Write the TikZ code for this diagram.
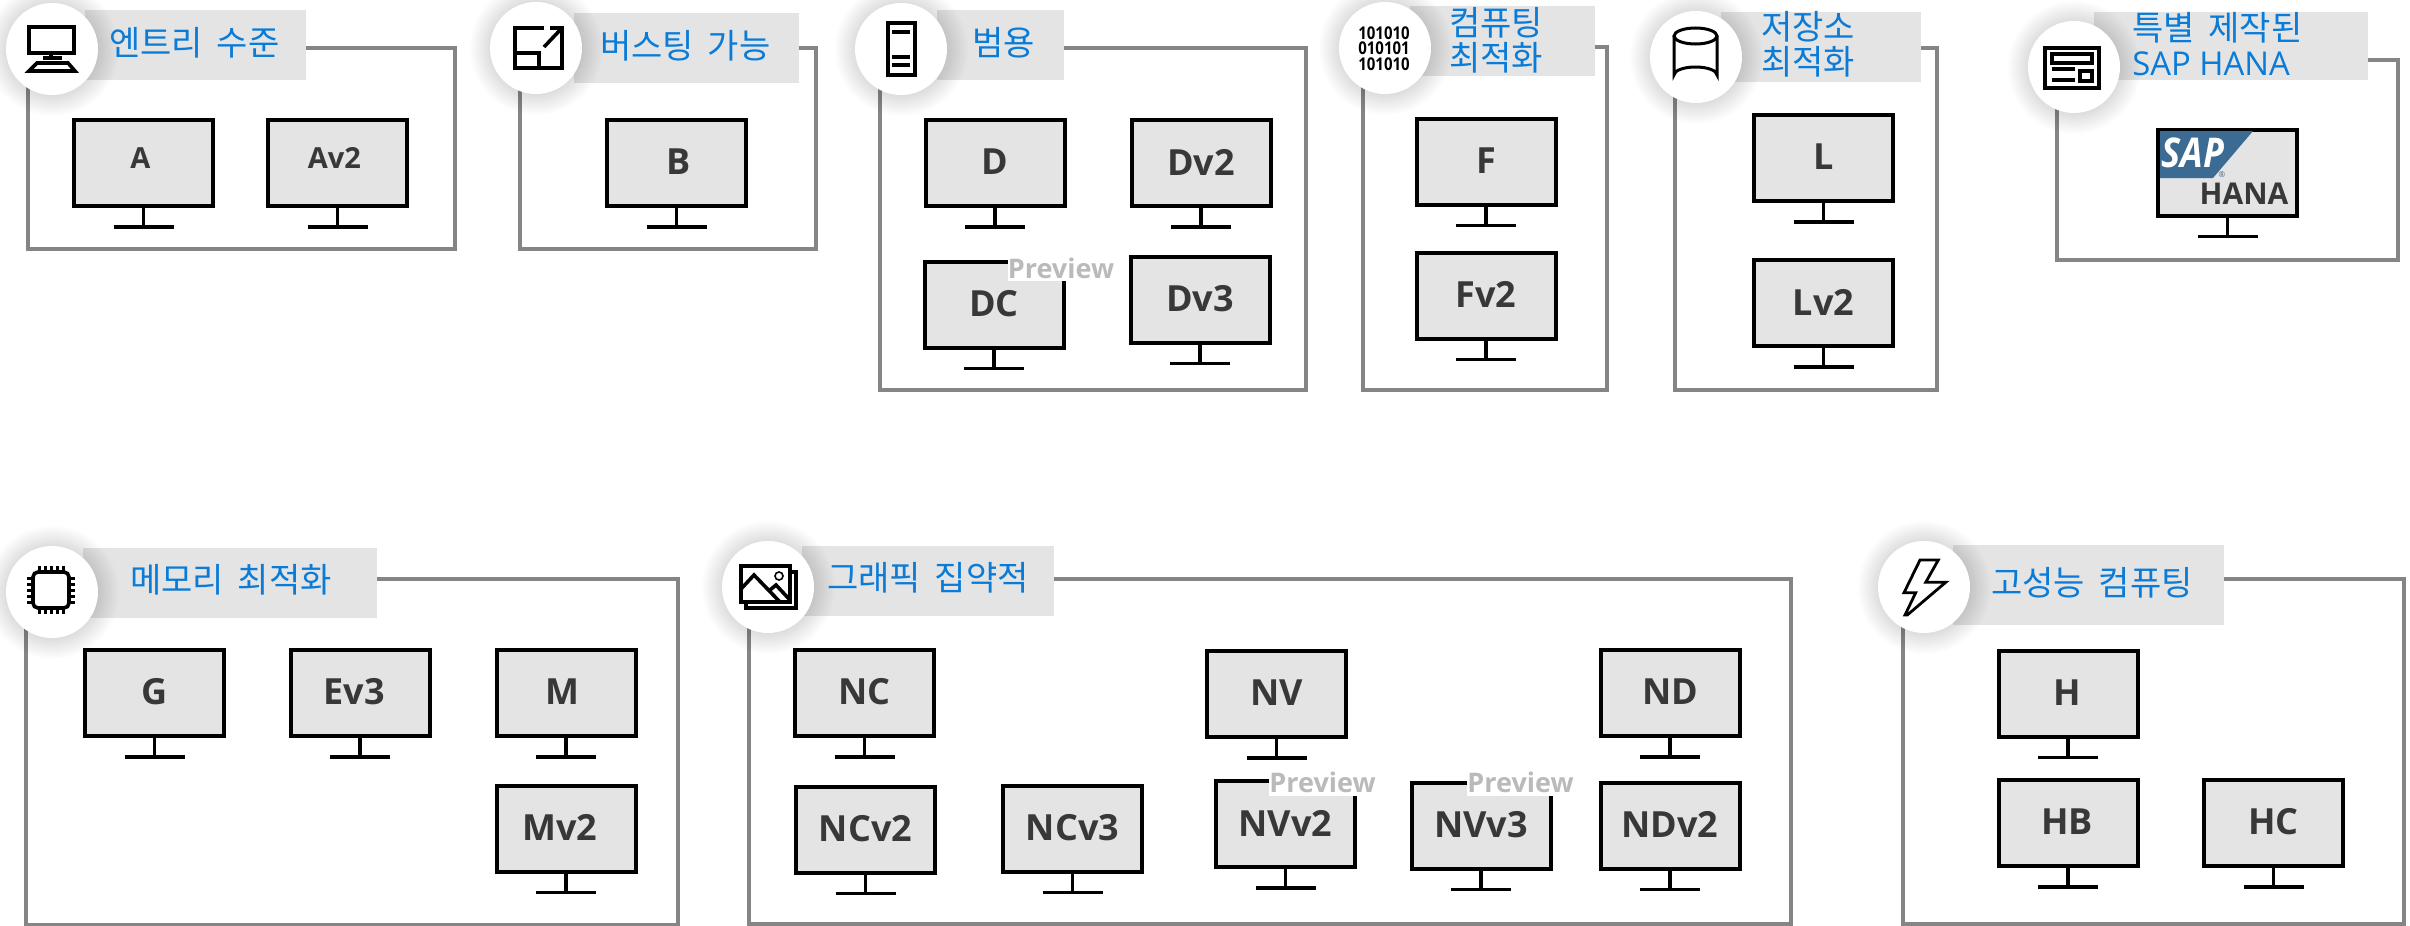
\documentclass[tikz,border=0pt]{standalone}
\usepackage{fontspec}
\usetikzlibrary{calc,fadings}
\setmainfont{Open Sans}
\newfontfamily\hangul[WordSpace=1.8]{Noto Sans CJK KR}
\definecolor{framegrey}{HTML}{858585}
\definecolor{panel}{HTML}{E4E4E4}
\definecolor{azure}{HTML}{0A7BD7}
\definecolor{tagdark}{HTML}{383838}
\definecolor{saplogo}{HTML}{3B6A92}
\tikzfading[name=softglow, inner color=transparent!0, outer color=transparent!100]
\newcommand{\headicon}[3]{%
  \fill[black, opacity=.42, path fading=softglow] (#2,#3) circle (67);
  \node[badge] (#1) at (#2,#3) {};
}
\begin{document}
\begin{tikzpicture}[
    x=.5pt, y=-.5pt,
    frame/.style={draw=framegrey, line width=1.7pt},
    band/.style={fill=panel},
    badge/.style={circle, fill=white, minimum size=46pt, inner sep=0pt},
    head/.style={anchor=west, inner sep=0pt, text=azure, align=left,
      font=\hangul\fontsize{17}{17.5}\selectfont},
    screen/.style={draw=black, fill=panel, line width=2pt, minimum width=69.5pt,
      minimum height=43pt, inner sep=0pt},
    stand/.style={draw=black, line width=1.8pt},
    tag/.style={inner sep=0pt, text=tagdark, font=\bfseries\fontsize{18}{20}\selectfont},
    smalltag/.style={tag, font=\bfseries\fontsize{14.5}{16}\selectfont},
    previewtag/.style={fill=white, inner sep=0pt, minimum width=53.5pt, minimum height=12pt,
      text height=9pt, text depth=0pt, text=black!27,
      font=\bfseries\fontsize{13.5}{14}\selectfont},
    icon/.style={draw=black, line width=1.8pt},
  ]
  \useasboundingbox (0,0) rectangle (2410,926);

  % Group frames
  \draw[frame] (28,48) rectangle (455,249);
  \draw[frame] (520,48) rectangle (816,249);
  \draw[frame] (880,48) rectangle (1306,390);
  \draw[frame] (1363,47) rectangle (1607,390);
  \draw[frame] (1675,48) rectangle (1937,390);
  \draw[frame] (2057,60) rectangle (2398,260);
  \draw[frame] (26,579) rectangle (678,925);
  \draw[frame] (749,579) rectangle (1791,924);
  \draw[frame] (1903,579) rectangle (2404,924);

  % Title bands
  \fill[band] (85,10) rectangle (306,80);
  \fill[band] (574,13) rectangle (799,83);
  \fill[band] (937,10) rectangle (1064,80);
  \fill[band] (1410,6) rectangle (1595,76);
  \fill[band] (1721,12) rectangle (1921,82);
  \fill[band] (2094,12) rectangle (2368,80);
  \fill[band] (83,548) rectangle (377,618);
  \fill[band] (802,546) rectangle (1054,616);
  \fill[band] (1953,545) rectangle (2224,625);

  \headicon{entrybadge}{52}{49}
  \headicon{burstbadge}{536}{48}
  \headicon{generalbadge}{901}{49}
  \headicon{computebadge}{1385}{48}
  \headicon{storagebadge}{1696}{57}
  \headicon{sapbadge}{2074}{67}
  \headicon{memorybadge}{52}{592}
  \headicon{graphicbadge}{768}{587}
  \headicon{hpcbadge}{1924}{587}

  \node[head] (entryhead) at (109,43) {엔트리 수준};
  \node[head] (bursthead) at (600,46) {버스팅 가능};
  \node[head] (generalhead) at (972,43) {범용};
  \node[head] (computehead) at (1449,40) {컴퓨팅\\최적화};
  \node[head] (storagehead) at (1761,44) {저장소\\최적화};
  \node[head] (saphead) at (2132,44) {특별 제작된\\{\rmfamily\fontsize{16.4}{17.5}\selectfont SAP HANA}};
  \node[head] (memoryhead) at (130,580) {메모리 최적화};
  \node[head] (graphichead) at (827,578) {그래픽 집약적};
  \node[head] (hpchead) at (1991,583) {고성능 컴퓨팅};

  % Monitors
  \foreach \nm/\x/\y in {A/143.5/163, Av2/337.5/163, B/676.5/163, D/995/163, Dv2/1201/163,
      DC/994/304.5, Dv3/1200/299.5, F/1486/161.5, Fv2/1486/295.5, L/1823.5/158, Lv2/1823.5/303,
      HANA/2227.5/172.5, G/154.5/693, Ev3/360/693, M/566/693, Mv2/566/828.5,
      NC/864.5/693, NV/1276.5/694, NCv2/865.5/829.5, NCv3/1072.5/828.5,
      NVv2/1285.5/824, NVv3/1481/825.5, ND/1670/693, NDv2/1670/825.5,
      H/2068/693.5, HB/2068/823, HC/2273.5/823}{
    \node[screen] (\nm) at (\x,\y) {};
    \coordinate (\nm-foot) at ($(\nm.south)+(0,19)$);
    \draw[stand] (\nm.south) -- (\nm-foot);
    \draw[stand] ($(\nm-foot)+(-30,0)$) -- ($(\nm-foot)+(30,0)$);
  }

  % Labels
  \node[smalltag] (A-tag) at ($(A)+(-3,-5)$) {A};
  \node[smalltag] (Av2-tag) at ($(Av2)+(-3,-5)$) {Av2};
  \foreach \nm/\dx in {B/2, D/0, Dv2/0, DC/0, Dv3/0, F/0, Fv2/0, L/0, Lv2/0, G/0, Ev3/-6, M/-4,
      Mv2/-6, NC/0, NV/0, NCv2/0, NCv3/0, NVv2/0, NVv3/0, ND/0, NDv2/0, H/-1, HB/-1, HC/0}{
    \node[tag] (\nm-tag) at ($(\nm)+(\dx,-1)$) {\nm};
  }
  \node[previewtag] (dcpreview) at (1061,269) {Preview};
  \node[previewtag] (nvv2preview) at (1322.5,783.5) {Preview};
  \node[previewtag] (nvv3preview) at (1520.5,783.5) {Preview};

  % SAP HANA logo
  \fill[saplogo] (2160,131) -- (2253,131) -- (2213,178) -- (2160,178) -- cycle;
  \node[inner sep=0pt, text=white, font=\bfseries\itshape\fontsize{20.5}{22}\selectfont] (saptext) at (2193,153) {\scalebox{.88}[1]{SAP}};
  \node[inner sep=0pt, text=saplogo, font=\fontsize{4}{4}\selectfont] (sapmark) at (2222,175) {®};
  \node[tag, font=\bfseries\fontsize{15}{16}\selectfont] (hanatext) at (2244,194) {HANA};

  % Icons
  \draw[icon] (29,27) rectangle (74,53) (51,53) -- (51,58) (43,58) -- (62,58);
  \draw[icon] (37,63) -- (68,63) -- (75,71) -- (29,71) -- cycle;
  \draw[icon] (544,28) -- (515,28) -- (515,68) -- (562,68) -- (562,40);
  \draw[icon] (515,53) -- (539,53) -- (539,68);
  \draw[icon] (544,47) -- (562,28) (550,28) -- (562,28) -- (562,40);
  \draw[icon] (888,23) rectangle (915,75);
  \draw[icon] (892,32) -- (910,32) (892,57) -- (910,57) (892,65) -- (910,65);
  \node[inner sep=0pt, align=center, text=black, font=\bfseries\fontsize{8.8}{7.7}\selectfont] (binarytext) at (1384,48.5)
    {\scalebox{.85}[1]{101010}\\\scalebox{.85}[1]{010101}\\\scalebox{.85}[1]{101010}};
  \draw[icon, line width=1.5pt] (1674,36) -- (1674,75) arc[start angle=180, end angle=360, x radius=21.5, y radius=8] -- (1717,36);
  \draw[icon, line width=1.5pt] (1695.5,36) ellipse [x radius=21.5, y radius=8];
  \draw[icon] (2045,48) rectangle (2099,88) (2052,54) rectangle (2092,63);
  \draw[icon] (2052,69) -- (2075,69) (2052,80) -- (2075,80) (2080,71) rectangle (2092,81);
  \draw[icon, rounded corners=2.5pt] (33,572) rectangle (69,608);
  \foreach \p in {-12,-6,0,6,12}{
    \draw[icon, line width=1.5pt] (51+\p,566) -- (51+\p,572) (51+\p,608) -- (51+\p,614);
    \draw[icon, line width=1.5pt] (27,590+\p) -- (33,590+\p) (69,590+\p) -- (75,590+\p);
  }
  \draw[icon] (741,566) rectangle (790,602);
  \draw[icon] (790,572) -- (796,572) -- (796,608) -- (746,608) -- (746,602);
  \draw[icon] (741,589) -- (754,575) -- (780,602) (770,590) -- (776,585) -- (790,600);
  \draw[icon, line width=.8pt] (779,576) circle (4);
  \draw[icon, line width=1.4pt] (1920,560) -- (1938.3,560) -- (1925.7,582.3) -- (1945.7,582.3) -- (1907.3,615) -- (1905,615) -- (1915.7,592.7) -- (1904,592.7) -- cycle;
\end{tikzpicture}
\end{document}
